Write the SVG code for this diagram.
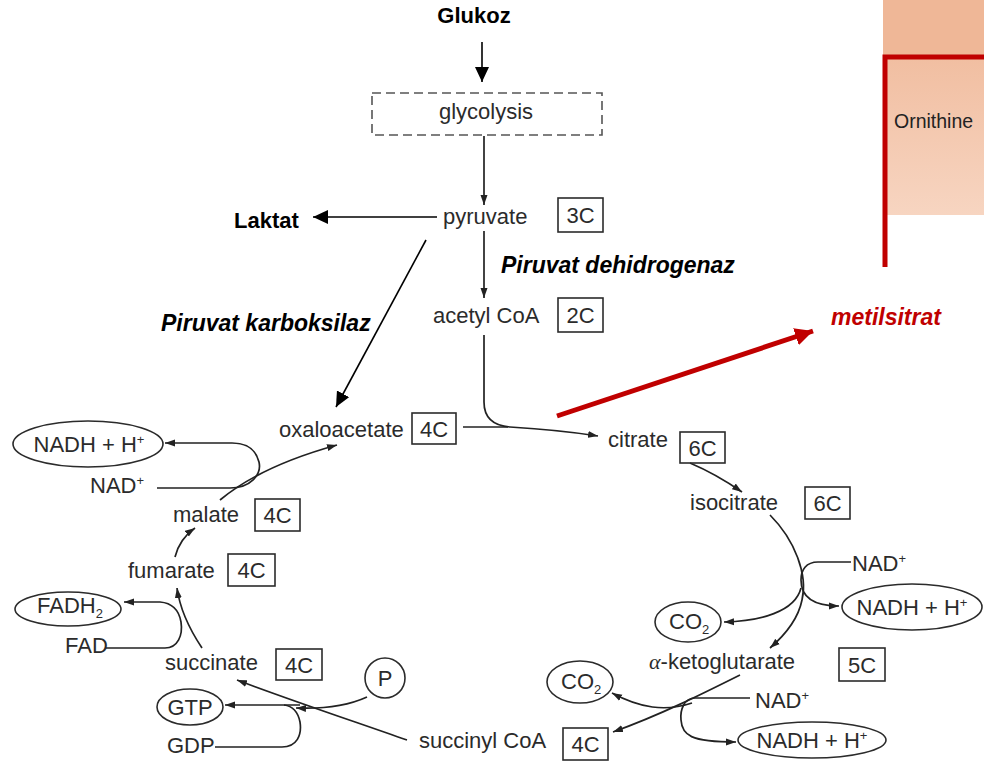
<svg xmlns="http://www.w3.org/2000/svg" width="984" height="768" viewBox="0 0 984 768">
<defs>
<style>
.t{font-family:"Liberation Sans",Arial,sans-serif;font-size:22px;fill:#2b2b2b}
.b{font-family:"Liberation Sans",Arial,sans-serif;font-size:22px;font-weight:bold;fill:#000}
.bi{font-family:"Liberation Sans",Arial,sans-serif;font-size:23px;font-weight:bold;font-style:italic;fill:#000}
.box{fill:none;stroke:#2b2b2b;stroke-width:1.6}
.ell{fill:#fff;stroke:#2b2b2b;stroke-width:1.6}
.c{fill:none;stroke:#222;stroke-width:1.7}
.cb{fill:none;stroke:#000;stroke-width:1.6}
.m{text-anchor:middle}
.sup{font-size:13px}
</style>
<marker id="sa" markerUnits="userSpaceOnUse" markerWidth="11" markerHeight="8" refX="10" refY="4" orient="auto"><path d="M0,0.5 L10,4 L0,7.5 z" fill="#222"/></marker>
<marker id="ba" markerUnits="userSpaceOnUse" markerWidth="16" markerHeight="14" refX="15" refY="7" orient="auto"><path d="M0,0 L15,7 L0,14 z" fill="#000"/></marker>
<marker id="ra" markerUnits="userSpaceOnUse" markerWidth="20" markerHeight="18" refX="18" refY="9" orient="auto"><path d="M0,0 L18,9 L0,18 z" fill="#C00000"/></marker>
<linearGradient id="pg" x1="0" y1="0" x2="0" y2="1"><stop offset="0" stop-color="#F1BEA1"/><stop offset="1" stop-color="#F7D5C1"/></linearGradient>
</defs>
<rect width="984" height="768" fill="#fff"/>

<g id="panel">
<rect x="883" y="0" width="101" height="57" fill="#EFB797"/>
<rect x="885" y="57" width="99" height="158" fill="url(#pg)"/>
<polyline points="885,267 885,57 984,57" fill="none" stroke="#C00000" stroke-width="5"/>
<text x="894" y="128" style="font-family:'Liberation Sans',Arial,sans-serif;font-size:19.5px;fill:#222">Ornithine</text>
</g>

<g id="connectors">
<line class="cb" x1="482" y1="42" x2="482" y2="82" marker-end="url(#ba)"/>
<line class="c" x1="484" y1="136" x2="484" y2="205" marker-end="url(#sa)"/>
<line class="cb" x1="437" y1="217" x2="313" y2="217" marker-end="url(#ba)"/>
<line class="c" x1="484" y1="231" x2="484" y2="298" marker-end="url(#sa)"/>
<line class="cb" x1="426" y1="240" x2="336" y2="407" marker-end="url(#ba)"/>
<path class="c" d="M484,335 L484,402 Q484,425 510,427 Q560,430 598,436" marker-end="url(#sa)"/>
<path class="c" d="M463,427 L508,427"/>
<path class="c" d="M690,463 Q716,474 742,492" marker-end="url(#sa)"/>
<path class="c" d="M770,515 C795,540 808,575 802,600 C798,620 785,635 770,648" marker-end="url(#sa)"/>
<path class="c" d="M801,588 C795,612 760,621 724,622" marker-end="url(#sa)"/>
<path class="c" d="M851,562 L818,562 C806,562 801,570 801,580 C801,596 812,606 839,606" marker-end="url(#sa)"/>
<path class="c" d="M740,675 C700,695 660,715 613,732" marker-end="url(#sa)"/>
<path class="c" d="M692,703 C665,712 640,708 612,693" marker-end="url(#sa)"/>
<path class="c" d="M750,698 L695,698 C684,698 680,710 681,720 C682,735 690,742 736,742" marker-end="url(#sa)"/>
<path class="c" d="M407,740 C350,720 290,700 237,680" marker-end="url(#sa)"/>
<path class="c" d="M367,697 C345,707 320,709 296,708" marker-end="url(#sa)"/>
<line class="c" x1="300" y1="705" x2="225" y2="705" marker-end="url(#sa)"/>
<path class="c" d="M215,747 L282,747 C297,747 302,735 300,722 C298,712 292,706 284,705"/>
<path class="c" d="M202,648 C190,630 180,610 177,588" marker-end="url(#sa)"/>
<path class="c" d="M106,648 L165,648 C178,648 183,635 181,622 C179,610 172,603 160,602 L124,602" marker-end="url(#sa)"/>
<path class="c" d="M175,557 C178,545 185,535 195,528" marker-end="url(#sa)"/>
<path class="c" d="M220,500 C250,475 290,458 337,445" marker-end="url(#sa)"/>
<path class="c" d="M157,488 L230,488 C250,488 262,475 259,462 C256,450 248,443 232,443 L165,443" marker-end="url(#sa)"/>
<line x1="557" y1="416" x2="813" y2="331" stroke="#C00000" stroke-width="5" marker-end="url(#ra)"/>
</g>

<g id="glukoz"><text class="b m" x="474" y="23">Glukoz</text></g>
<g id="glycolysis">
<rect x="372" y="93" width="230" height="42" fill="none" stroke="#555" stroke-width="1.6" stroke-dasharray="9,5"/>
<text class="t m" x="486" y="119">glycolysis</text>
</g>
<g id="laktat"><text class="b" x="234" y="228">Laktat</text></g>
<g id="pyruvate">
<text class="t" x="443" y="224">pyruvate</text>
<rect class="box" x="558" y="198" width="45" height="34"/>
<text class="t m" x="580.5" y="223">3C</text>
</g>
<g id="label-pdh"><text class="bi" x="501" y="273">Piruvat dehidrogenaz</text></g>
<g id="label-pc"><text class="bi" x="161" y="331">Piruvat karboksilaz</text></g>
<g id="acetylcoa">
<text class="t" x="433" y="323">acetyl CoA</text>
<rect class="box" x="558" y="298" width="45" height="34"/>
<text class="t m" x="580.5" y="323">2C</text>
</g>
<g id="metilsitrat"><text class="bi" x="831" y="325" style="fill:#C00000">metilsitrat</text></g>
<g id="oxaloacetate">
<text class="t" x="279" y="437">oxaloacetate</text>
<rect class="box" x="412" y="413" width="44" height="31"/>
<text class="t m" x="434" y="437">4C</text>
</g>
<g id="citrate">
<text class="t" x="608" y="447">citrate</text>
<rect class="box" x="680" y="432" width="45" height="31"/>
<text class="t m" x="702.5" y="456">6C</text>
</g>
<g id="isocitrate">
<text class="t" x="690" y="510">isocitrate</text>
<rect class="box" x="805" y="487" width="45" height="32"/>
<text class="t m" x="827.5" y="511">6C</text>
</g>
<g id="nad-1"><text class="t" x="852" y="571">NAD<tspan class="sup" dy="-8">+</tspan></text></g>
<g id="nadh-1">
<ellipse class="ell" cx="912" cy="607" rx="70" ry="23"/>
<text class="t m" x="912" y="615">NADH + H<tspan class="sup" dy="-8">+</tspan></text>
</g>
<g id="co2-1">
<ellipse class="ell" cx="688" cy="622" rx="33" ry="20"/>
<text class="t" x="669" y="629">CO<tspan class="sup" dy="5">2</tspan></text>
</g>
<g id="akg">
<text class="t" x="649" y="669"><tspan style="font-family:'Liberation Serif',serif;font-style:italic">α</tspan>-ketoglutarate</text>
<rect class="box" x="839" y="648" width="46" height="33"/>
<text class="t m" x="862" y="673">5C</text>
</g>
<g id="co2-2">
<ellipse class="ell" cx="580" cy="682" rx="33" ry="21"/>
<text class="t" x="561" y="689">CO<tspan class="sup" dy="5">2</tspan></text>
</g>
<g id="nad-2"><text class="t" x="755" y="708">NAD<tspan class="sup" dy="-8">+</tspan></text></g>
<g id="nadh-2">
<ellipse class="ell" cx="812" cy="740" rx="74" ry="18"/>
<text class="t m" x="812" y="748">NADH + H<tspan class="sup" dy="-8">+</tspan></text>
</g>
<g id="succinylcoa">
<text class="t" x="419" y="748">succinyl CoA</text>
<rect class="box" x="563" y="728" width="45" height="32"/>
<text class="t m" x="585.5" y="752">4C</text>
</g>
<g id="p">
<circle class="ell" cx="385" cy="678" r="20"/>
<text class="t m" x="385" y="686">P</text>
</g>
<g id="gtp">
<ellipse class="ell" cx="190" cy="707" rx="33" ry="18"/>
<text class="t m" x="190" y="715">GTP</text>
</g>
<g id="gdp"><text class="t" x="167" y="753">GDP</text></g>
<g id="succinate">
<text class="t" x="165" y="670">succinate</text>
<rect class="box" x="276" y="649" width="46" height="31"/>
<text class="t m" x="299" y="673">4C</text>
</g>
<g id="fad"><text class="t" x="65" y="653">FAD</text></g>
<g id="fadh2">
<ellipse class="ell" cx="68" cy="609" rx="53" ry="17"/>
<text class="t" x="37" y="613">FADH<tspan class="sup" dy="5">2</tspan></text>
</g>
<g id="fumarate">
<text class="t" x="128" y="578">fumarate</text>
<rect class="box" x="228" y="554" width="47" height="32"/>
<text class="t m" x="251.5" y="578">4C</text>
</g>
<g id="malate">
<text class="t" x="173" y="522">malate</text>
<rect class="box" x="255" y="499" width="45" height="32"/>
<text class="t m" x="277.5" y="523">4C</text>
</g>
<g id="nad-3"><text class="t" x="90" y="493">NAD<tspan class="sup" dy="-8">+</tspan></text></g>
<g id="nadh-3">
<ellipse class="ell" cx="88" cy="444" rx="75" ry="23"/>
<text class="t m" x="89" y="452">NADH + H<tspan class="sup" dy="-8">+</tspan></text>
</g>
</svg>
